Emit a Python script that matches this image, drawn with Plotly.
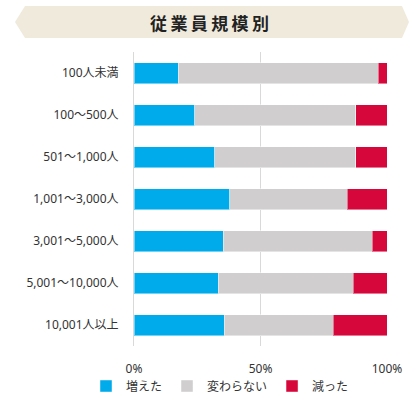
import plotly.graph_objects as go

categories = ["100人未満", "100～500人", "501～1,000人", "1,001～3,000人",
              "3,001～5,000人", "5,001～10,000人", "10,001人以上"]
increased = [17.4, 24.1, 32.0, 37.9, 35.2, 33.2, 35.6]
unchanged = [79.1, 63.6, 55.7, 46.3, 59.0, 53.5, 43.1]
decreased = [3.5, 12.3, 12.3, 15.8, 5.8, 13.3, 21.3]
series_names = ["増えた", "変わらない", "減った"]
x_ticks = [0, 50, 100]
x_tick_labels = ["0%", "50%", "100%"]
title_text = "従業員規模別"

W, H = 420, 397
L, R, T, B = 134, 33, 52, 51
PW, PH = W - L - R, H - T - B


def px(x):
    return (x - L) / PW


def py(y):
    return (H - B - y) / PH


colors = ["#00ABEB", "#D0CECF", "#D6083B"]
font_family = "Noto Sans, Noto Sans CJK JP, sans-serif"
title_family = "Noto Sans CJK JP, sans-serif"

fig = go.Figure()
for name, vals, col in zip(series_names, [increased, unchanged, decreased], colors):
    fig.add_trace(go.Bar(
        y=categories, x=vals, name=name, orientation="h",
        marker=dict(color=col, line=dict(color="rgba(255,255,255,0.45)", width=1)),
    ))

banner = [(15, 22), (25, 6), (402, 6), (409, 22), (402, 38), (25, 38)]
path = "M " + " L ".join(f"{px(a):.5f},{py(b):.5f}" for a, b in banner) + " Z"

fig.update_layout(
    width=W, height=H,
    margin=dict(l=L, r=R, t=T, b=B, autoexpand=False),
    barmode="stack", bargap=0.5,
    plot_bgcolor="white", paper_bgcolor="white",
    font=dict(family=font_family, size=12, color="#333333"),
    xaxis=dict(range=[0, 100], tickvals=x_ticks, ticktext=x_tick_labels,
               showgrid=True, gridcolor="#D9D9D9", gridwidth=1,
               zeroline=False, showline=False,
               ticks="outside", ticklen=12, tickcolor="rgba(0,0,0,0)",
               tickfont=dict(size=12, color="#333333"), fixedrange=True),
    yaxis=dict(categoryorder="array", categoryarray=categories, autorange="reversed",
               showgrid=False, zeroline=False, showline=True, linecolor="#D9D9D9",
               ticks="outside", ticklen=12,
               tickcolor="rgba(0,0,0,0)", tickfont=dict(size=12, color="#333333")),
    showlegend=True,
    legend=dict(orientation="h", x=px(86), xanchor="left", y=py(386), yanchor="middle",
                font=dict(size=12, color="#333333"), itemwidth=30,
                traceorder="normal", bgcolor="rgba(0,0,0,0)"),
    shapes=[dict(type="path", path=path, xref="paper", yref="paper",
                 fillcolor="#EFEADC", line=dict(width=0), layer="below")],
    annotations=[dict(text="<b>" + "\u2009".join(title_text) + "</b>", x=px(209), y=py(22),
                      xref="paper", yref="paper", showarrow=False,
                      xanchor="center", yanchor="middle",
                      font=dict(size=17, color="#222222", family=title_family))],
)

fig.write_html("out.html", config={"displayModeBar": False},
               post_script="document.body.style.margin='0';document.body.style.overflow='hidden';")
